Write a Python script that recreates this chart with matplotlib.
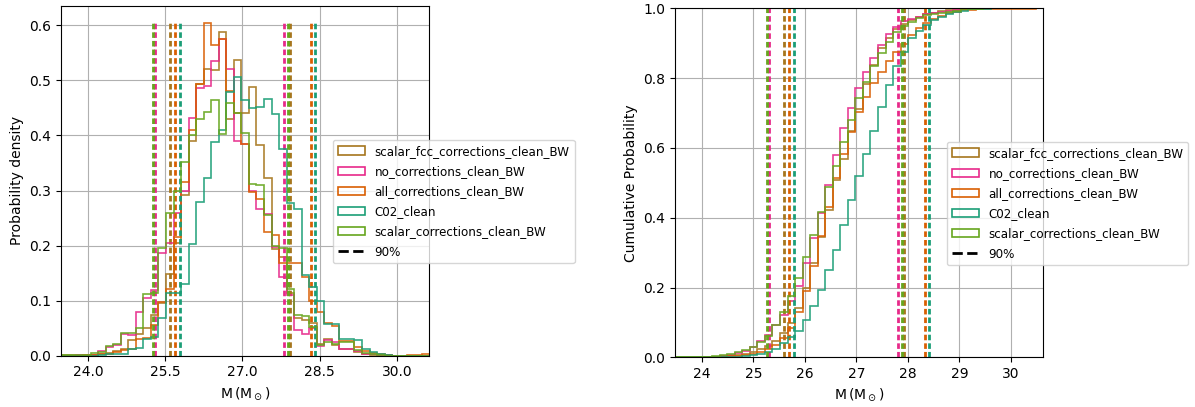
import numpy as np
import matplotlib
matplotlib.use("Agg")
import matplotlib.pyplot as plt
from matplotlib.patches import Patch
from matplotlib.lines import Line2D

# Common histogram binning (chirp-mass samples)
bin_lo = 23.468
bin_width = 0.1463
n_bins = 50
edges = bin_lo + bin_width * np.arange(n_bins + 1)

labels = ["scalar_fcc_corrections_clean_BW", "no_corrections_clean_BW",
          "all_corrections_clean_BW", "C02_clean", "scalar_corrections_clean_BW"]
colors = ["#a6761d", "#e7298a", "#d95f02", "#1b9e77", "#66a61e"]

# Probability density per bin
scalar_fcc = [0.002, 0.001, 0.001, 0.002, 0.002, 0.004, 0.005, 0.008, 0.013, 0.028,
              0.040, 0.050, 0.074, 0.096, 0.149, 0.204, 0.292, 0.390, 0.494, 0.521,
              0.518, 0.588, 0.430, 0.537, 0.440, 0.488, 0.382, 0.322, 0.193, 0.180,
              0.113, 0.068, 0.065, 0.059, 0.022, 0.030, 0.020, 0.013, 0.012, 0.006,
              0.003, 0.002, 0.001, 0.0, 0.0, 0.0, 0.0, 0.0, 0.0, 0.0]
no_corr = [0.0, 0.0, 0.001, 0.001, 0.002, 0.009, 0.015, 0.019, 0.040, 0.038,
           0.080, 0.105, 0.119, 0.187, 0.204, 0.260, 0.300, 0.431, 0.487, 0.490,
           0.535, 0.576, 0.520, 0.390, 0.385, 0.300, 0.267, 0.258, 0.198, 0.143,
           0.110, 0.047, 0.040, 0.050, 0.018, 0.028, 0.025, 0.013, 0.012, 0.008,
           0.004, 0.003, 0.002, 0.001, 0.0, 0.0, 0.0, 0.0, 0.0, 0.0]
all_corr = [0.0, 0.0, 0.0, 0.001, 0.001, 0.003, 0.004, 0.007, 0.010, 0.012,
            0.030, 0.032, 0.055, 0.098, 0.122, 0.215, 0.316, 0.410, 0.494, 0.605,
            0.564, 0.576, 0.480, 0.440, 0.385, 0.298, 0.284, 0.225, 0.219, 0.168,
            0.168, 0.168, 0.143, 0.100, 0.080, 0.060, 0.054, 0.027, 0.027, 0.016,
            0.008, 0.005, 0.004, 0.001, 0.0, 0.0, 0.002, 0.001, 0.003, 0.002]
c02_clean = [0.0, 0.0, 0.0, 0.0, 0.0, 0.001, 0.003, 0.003, 0.004, 0.013,
             0.014, 0.030, 0.034, 0.068, 0.113, 0.113, 0.131, 0.203, 0.280, 0.322,
             0.388, 0.410, 0.479, 0.506, 0.464, 0.449, 0.452, 0.467, 0.439, 0.375,
             0.278, 0.266, 0.146, 0.125, 0.099, 0.058, 0.058, 0.030, 0.030, 0.028,
             0.012, 0.006, 0.003, 0.001, 0.0, 0.0, 0.0, 0.0, 0.0, 0.0]
scalar_corr = [0.001, 0.001, 0.002, 0.002, 0.005, 0.007, 0.018, 0.022, 0.042, 0.041,
               0.050, 0.112, 0.113, 0.195, 0.260, 0.300, 0.351, 0.400, 0.430, 0.443,
               0.464, 0.403, 0.458, 0.440, 0.405, 0.312, 0.310, 0.255, 0.200, 0.195,
               0.122, 0.074, 0.072, 0.053, 0.019, 0.025, 0.022, 0.025, 0.025, 0.010,
               0.005, 0.003, 0.001, 0.0, 0.0, 0.0, 0.0, 0.0, 0.0, 0.0]
series = [scalar_fcc, no_corr, all_corr, c02_clean, scalar_corr]

# 90% credible interval bounds per run
ci_low = [25.59, 25.30, 25.70, 25.79, 25.27]
ci_high = [27.92, 27.81, 28.33, 28.41, 27.89]

pdf_xticks = [24.0, 25.5, 27.0, 28.5, 30.0]
pdf_xticklabels = ["24.0", "25.5", "27.0", "28.5", "30.0"]
cdf_xticks = [24, 25, 26, 27, 28, 29, 30]

xlim = (23.478, 30.62)

fig = plt.figure(figsize=(11.95, 4.07), dpi=100)
ax1 = fig.add_axes([0.0510, 0.1260, 0.3080, 0.8592])
ax2 = fig.add_axes([0.5649, 0.1221, 0.3078, 0.8575])

centers = 0.5 * (edges[:-1] + edges[1:])
peak = max(max(s) for s in series)
dash = (0, (2.0, 1.1))

for vals, lab, col, lo, hi in zip(series, labels, colors, ci_low, ci_high):
    ax1.hist(centers, bins=edges, weights=vals, histtype="step",
             color=col, lw=1.2, alpha=0.9)
    ax1.vlines([lo, hi], 0, peak, colors=col, lw=2.0, linestyles=dash)
    ax2.hist(centers, bins=edges, weights=vals, density=True, cumulative=True,
             histtype="step", color=col, lw=1.2, alpha=0.9)
    ax2.vlines([lo, hi], 0, 1.0, colors=col, lw=2.0, linestyles=dash)

handles = [Patch(facecolor="none", edgecolor=c, lw=1.2) for c in colors]
handles.append(Line2D([], [], color="black", ls="--", lw=2))
leg_labels = labels + ["90%"]

legend_kw = dict(loc="upper left", bbox_to_anchor=(0.739, 0.617), borderaxespad=0,
                 fontsize=8.6, handlelength=2.3, labelspacing=0.6)

ax1.set_xlim(*xlim)
ax1.set_ylim(0, 0.635)
ax1.set_xticks(pdf_xticks)
ax1.set_xticklabels(pdf_xticklabels)
ax1.set_ylabel("Probability density", fontsize=10)
ax1.set_xlabel(r"$\mathrm{M}\,(\mathrm{M}_\odot)$", fontsize=10)
ax1.grid(True)
ax1.legend(handles, leg_labels, **legend_kw)

ax2.set_xlim(*xlim)
ax2.set_ylim(0, 1.0)
ax2.set_xticks(cdf_xticks)
ax2.set_ylabel("Cumulative Probability", fontsize=10)
ax2.set_xlabel(r"$\mathrm{M}\,(\mathrm{M}_\odot)$", fontsize=10)
ax2.grid(True)
ax2.legend(handles, leg_labels, **legend_kw)

fig.savefig("out.png", dpi=100)
